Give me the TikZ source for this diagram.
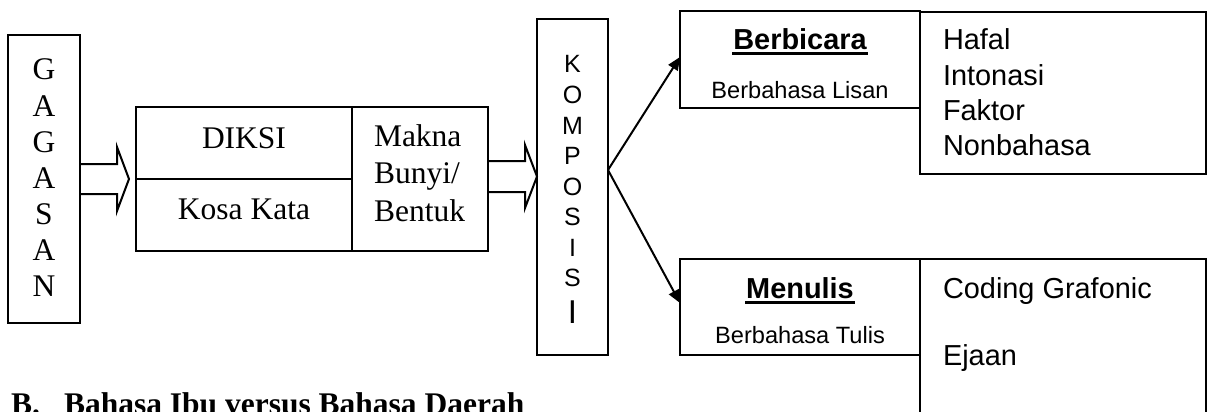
\documentclass[tikz,border=0pt]{standalone}
\usepackage{fontspec}
\setmainfont{Liberation Serif}
\newfontfamily\arial{Liberation Sans}
\usetikzlibrary{arrows.meta,calc}
\begin{document}
\begin{tikzpicture}[x=1pt,y=-1pt,line width=2pt,line join=miter,
  box/.style={draw,line width=2pt,inner sep=0,outer sep=0,anchor=north west},
  txt/.style={inner sep=0,anchor=base},
  ltxt/.style={inner sep=0,anchor=base west},
  tnr/.style={font=\fontsize{31.5}{36}\selectfont},
  kletter/.style={font=\arial\fontsize{25}{30}\selectfont},
  head/.style={font=\arial\bfseries\fontsize{28.9}{35}\selectfont},
  sub/.style={font=\arial\fontsize{23.6}{28}\selectfont},
  item/.style={font=\arial\fontsize{28.9}{35}\selectfont},
  title/.style={font=\bfseries\fontsize{31.5}{36}\selectfont},
  link/.style={line width=2pt,-{Triangle[length=13pt,width=11pt]}},
  uline/.style={line width=3pt}
]
\useasboundingbox (0,0) rectangle (1210,412);
\clip (0,0) rectangle (1210,412);

% boxes
\node[box,minimum width=72pt,minimum height=288pt] (gag) at (8,35) {};
\node[box,minimum width=216pt,minimum height=144pt] (dik) at (136,107) {};
\node[box,minimum width=136pt,minimum height=144pt] (mak) at (352,107) {};
\node[box,minimum width=71pt,minimum height=336pt] (kom) at (537,19) {};
\node[box,minimum width=240pt,minimum height=97pt] (berb) at (680,11) {};
\node[box,minimum width=286pt,minimum height=162pt] (hafb) at (920,12) {};
\node[box,minimum width=240pt,minimum height=96pt] (menb) at (680,259) {};
\node[box,minimum width=286pt,minimum height=190pt] (codb) at (920,259) {};
\draw (dik.west) -- (dik.east);

% GAGASAN
\foreach \l [count=\i from 0] in {G,A,G,A,S,A,N}
  \node[txt,tnr] (g\i) at (44,80+36*\i) {\l};

% DIKSI / Kosa Kata
\node[txt,tnr] (diksi) at (244,148) {DIKSI};
\node[txt,tnr] (kosa) at (244,219.5) {Kosa Kata};

% Makna
\node[ltxt,tnr] (m1) at (373,146) {Makna};
\node[ltxt,tnr] (m2) at (373,183.5) {Bunyi/};
\node[ltxt,tnr] (m3) at (373,221) {Bentuk};

% KOMPOSISI
\foreach \l [count=\i from 0] in {K,O,M,P,O,S,I,S}
  \node[txt,kletter] (k\i) at (572.5,73+30.5*\i) {\l};
\node[txt,font=\arial\fontsize{33}{36}\selectfont] (k8) at (572.5,323) {I};

% Berbicara
\node[txt,head] (berbt) at (800,50) {Berbicara};
\draw[uline] ([yshift=-4pt]berbt.base west) -- ([yshift=-4pt]berbt.base east);
\node[txt,sub] (lisan) at (800,98) {Berbahasa Lisan};
\node[ltxt,item] (h1) at (942,50) {Hafal};
\node[ltxt,item] (h2) at (942,85) {Intonasi};
\node[ltxt,item] (h3) at (942,120) {Faktor};
\node[ltxt,item] (h4) at (942,155) {Nonbahasa};

% Menulis
\node[txt,head] (ment) at (800,298) {Menulis};
\draw[uline] ([yshift=-4.5pt]ment.base west) -- ([yshift=-4.5pt]ment.base east);
\node[txt,sub] (tulis) at (800,343) {Berbahasa Tulis};
\node[ltxt,item] (c1) at (942,298) {Coding Grafonic};
\node[ltxt,item] (c2) at (942,365) {Ejaan};

% block arrows
\draw (gag.east) ++(0,-15) -- ++(37,0) -- ++(0,-17) -- ++(12,32) -- ++(-12,32) -- ++(0,-17) -- ++(-37,0);
\draw ($(mak.east)+(0,-2.5)$) ++(0,-15.5) -- ++(37,0) -- ++(0,-16) -- ++(12,31.5) -- ++(-12,31.5) -- ++(0,-16) -- ++(-37,0);

% branching connectors
\coordinate (ks) at ($(kom.north east)+(0,151)$);
\draw[link] (ks) -- ($(berb.north west)+(0,46)$);
\draw[link] (ks) -- ($(menb.north west)+(0,44)$);

% title
\node[ltxt,title] (tb) at (10,414) {B.};
\node[ltxt,title] (tt) at (63,414) {Bahasa Ibu versus Bahasa Daerah};
\end{tikzpicture}
\end{document}
